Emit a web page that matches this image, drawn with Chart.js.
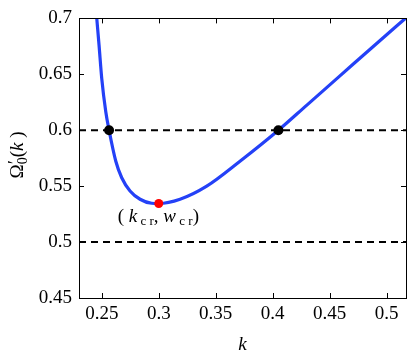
<!DOCTYPE html>
<html>
<head>
<meta charset="utf-8">
<script src="https://cdn.jsdelivr.net/npm/chart.js@4"></script>
<style>
html,body{margin:0;padding:0;background:#fff;}
#wrap{width:415px;height:356px;}
</style>
</head>
<body>
<div id="wrap"><canvas id="c" width="415" height="356"></canvas></div>
<script>
// Data
const curveK = [0.2456, 0.2476, 0.2500, 0.2535, 0.2564, 0.2623, 0.2675, 0.2748, 0.2836, 0.2938, 0.3000, 0.3187, 0.3421, 0.3713, 0.4050, 0.4300, 0.4600, 0.4900, 0.5170];
const curveW = [0.700, 0.676, 0.646, 0.6166, 0.600, 0.5723, 0.5575, 0.5457, 0.5383, 0.5347, 0.5345, 0.5383, 0.5500, 0.5723, 0.600, 0.6225, 0.6495, 0.6765, 0.7005];
const dashLevels = [0.6, 0.5];
const crossK = [0.2564, 0.405];
const crossW = [0.6, 0.6];
const critK = [0.3];
const critW = [0.5345];
const xRange = [0.23, 0.517];
const yRange = [0.45, 0.7];
const xTickVals = [0.25, 0.3, 0.35, 0.4, 0.45, 0.5];
const yTickVals = [0.45, 0.5, 0.55, 0.6, 0.65, 0.7];
const xLabel = 'k';

const SERIF = '"Liberation Serif", "DejaVu Serif", serif';

// Chart.js draws dataset 0 on top, so points come first
const datasets = [];
datasets.push({
  type: 'scatter',
  data: critK.map((k, i) => ({x: k, y: critW[i]})),
  backgroundColor: '#ff0000', borderColor: '#ff0000', pointRadius: 4.5, borderWidth: 0
});
datasets.push({
  type: 'scatter',
  data: crossK.map((k, i) => ({x: k, y: crossW[i]})),
  backgroundColor: '#000', borderColor: '#000', pointRadius: 5, borderWidth: 0
});
datasets.push({
  type: 'line',
  data: curveK.map((k, i) => ({x: k, y: curveW[i]})),
  borderColor: '#2441f7', borderWidth: 3.2,
  cubicInterpolationMode: 'monotone',
  pointRadius: 0, fill: false
});
dashLevels.forEach(l => {
  datasets.push({
    type: 'line',
    data: [{x: xRange[0], y: l}, {x: xRange[1], y: l}],
    borderColor: '#000', borderWidth: 2, borderDash: [7, 5],
    pointRadius: 0, fill: false
  });
});

const decor = {
  id: 'decor',
  afterDatasetsDraw(chart) {
    const ctx = chart.ctx;
    const a = chart.chartArea;
    const xs = chart.scales.x, ys = chart.scales.y;
    ctx.save();
    ctx.strokeStyle = '#000';
    ctx.lineWidth = 1;
    ctx.strokeRect(Math.round(a.left) + 0.5, Math.round(a.top) + 0.5, Math.round(a.right - a.left), Math.round(a.bottom - a.top));
    const tl = 5;
    ctx.beginPath();
    xTickVals.forEach(v => {
      const px = Math.round(xs.getPixelForValue(v)) + 0.5;
      ctx.moveTo(px, a.bottom); ctx.lineTo(px, a.bottom - tl);
      ctx.moveTo(px, a.top); ctx.lineTo(px, a.top + tl);
    });
    yTickVals.forEach(v => {
      const py = Math.round(ys.getPixelForValue(v)) + 0.5;
      ctx.moveTo(a.left, py); ctx.lineTo(a.left + tl, py);
      ctx.moveTo(a.right, py); ctx.lineTo(a.right - tl, py);
    });
    ctx.stroke();

    // annotation (k_cr, w_cr)
    const rx = xs.getPixelForValue(critK[0]);
    const ry = ys.getPixelForValue(critW[0]);
    let x = rx - 41, y = ry + 18.5;
    ctx.fillStyle = '#000';
    ctx.textBaseline = 'alphabetic';
    ctx.textAlign = 'left';
    const parts = [
      ['( ', 'normal', 19, 0], ['k', 'italic', 19, 0], [' c r', 'normal', 13, 3],
      [', ', 'normal', 19, 0], ['w', 'italic', 19, 0], [' c r', 'normal', 13, 3], [')', 'normal', 19, 0]
    ];
    parts.forEach(p => {
      ctx.font = p[1] + ' ' + p[2] + 'px ' + SERIF;
      ctx.fillText(p[0], x, y + p[3]);
      x += ctx.measureText(p[0]).width;
    });

    // y-axis title  Ω'_0(k)
    ctx.translate(17, 155);
    ctx.rotate(-Math.PI / 2);
    const yparts = [
      ['Ω', 'normal', 19, 0], ['′', 'normal', 19, -2], ['0', 'normal', 14, 4],
      ['(', 'normal', 19, 0], ['k', 'italic', 19, 0], [' )', 'normal', 19, 0]
    ];
    ctx.font = 'normal 19px ' + SERIF;
    const primeW = ctx.measureText('′').width;
    let w = 0;
    yparts.forEach(p => { ctx.font = p[1] + ' ' + p[2] + 'px ' + SERIF; w += ctx.measureText(p[0]).width; });
    w -= primeW;
    let xx = -w / 2;
    yparts.forEach(p => {
      ctx.font = p[1] + ' ' + p[2] + 'px ' + SERIF;
      const dx = (p[0] === '0') ? -primeW : 0;
      ctx.fillText(p[0], xx + dx, 6 + p[3]);
      xx += ctx.measureText(p[0]).width + dx;
    });
    ctx.restore();
  }
};

new Chart(document.getElementById('c'), {
  data: { datasets },
  options: {
    responsive: false,
    animation: false,
    events: [],
    layout: { padding: { top: 16, right: 9, left: 0, bottom: 0 } },
    plugins: { legend: { display: false }, tooltip: { enabled: false } },
    scales: {
      x: {
        type: 'linear', min: xRange[0], max: xRange[1],
        afterBuildTicks: s => { s.ticks = xTickVals.map(v => ({value: v})); },
        afterFit: s => { s.height = 58; },
        grid: { display: false, drawTicks: false },
        border: { display: true, color: '#000', width: 1 },
        ticks: { color: '#000', font: { family: SERIF, size: 19 }, padding: 5, maxRotation: 0,
                 callback: v => String(+v.toFixed(2)) },
        title: { display: true, text: xLabel, color: '#000', font: { family: SERIF, size: 19, style: 'italic' }, padding: { top: 0, bottom: 0 } }
      },
      y: {
        type: 'linear', min: yRange[0], max: yRange[1],
        afterBuildTicks: s => { s.ticks = yTickVals.map(v => ({value: v})); },
        afterFit: s => { s.width = 79; },
        grid: { display: false, drawTicks: false },
        border: { display: true, color: '#000', width: 1 },
        ticks: { color: '#000', font: { family: SERIF, size: 19 }, padding: 7,
                 callback: v => String(+v.toFixed(2)) }
      }
    }
  },
  plugins: [decor]
});
</script>
</body>
</html>
